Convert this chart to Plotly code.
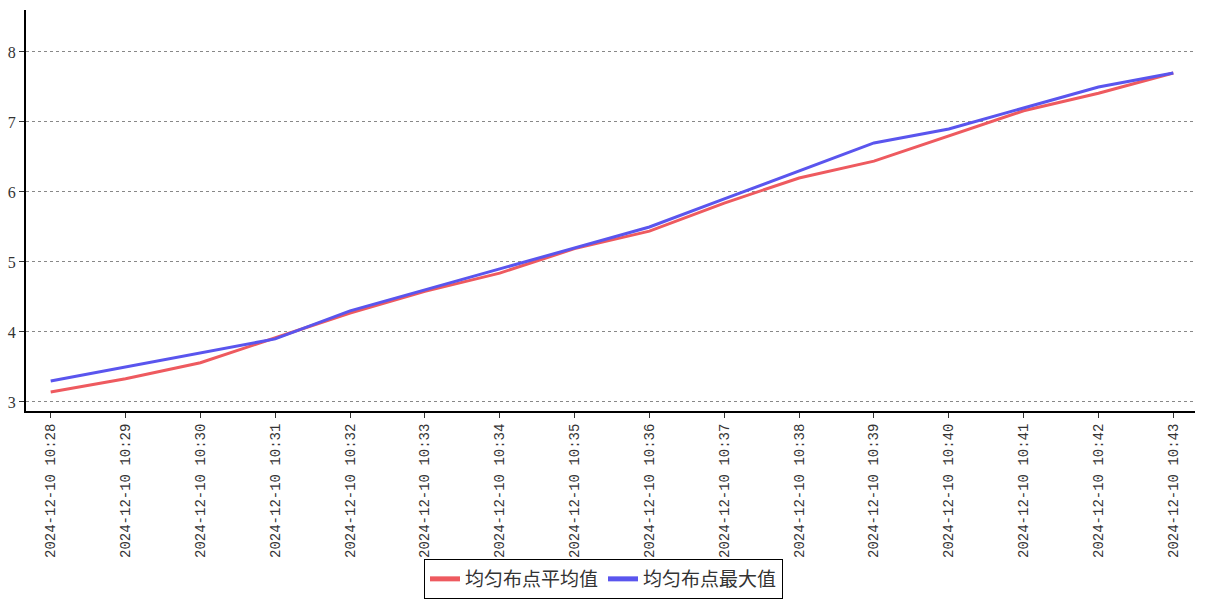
import plotly.graph_objects as go

times = ["2024-12-10 10:28", "2024-12-10 10:29", "2024-12-10 10:30", "2024-12-10 10:31",
         "2024-12-10 10:32", "2024-12-10 10:33", "2024-12-10 10:34", "2024-12-10 10:35",
         "2024-12-10 10:36", "2024-12-10 10:37", "2024-12-10 10:38", "2024-12-10 10:39",
         "2024-12-10 10:40", "2024-12-10 10:41", "2024-12-10 10:42", "2024-12-10 10:43"]
avg_vals = [3.14, 3.33, 3.56, 3.91, 4.27, 4.58, 4.84, 5.19, 5.44, 5.84, 6.2, 6.44, 6.8, 7.16, 7.41, 7.7]
max_vals = [3.3, 3.5, 3.7, 3.9, 4.3, 4.6, 4.9, 5.2, 5.5, 5.9, 6.3, 6.7, 6.9, 7.2, 7.5, 7.7]
y_ticks = [3, 4, 5, 6, 7, 8]

fig = go.Figure()
fig.add_trace(go.Scatter(x=times, y=avg_vals, mode="lines", name="均匀布点平均值",
                         line=dict(color="#ee5a5f", width=3)))
fig.add_trace(go.Scatter(x=times, y=max_vals, mode="lines", name="均匀布点最大值",
                         line=dict(color="#5a55ee", width=3)))

fig.update_layout(
    width=1207, height=600,
    margin=dict(l=26, r=12, t=10, b=189, autoexpand=False),
    plot_bgcolor="white", paper_bgcolor="white",
    font=dict(family="Liberation Serif, DejaVu Serif, serif", color="#333333", size=14),
    showlegend=True,
    legend=dict(orientation="h", x=0.5, xanchor="center", xref="container",
                y=1 / 600, yanchor="bottom", yref="container",
                bordercolor="#000000", borderwidth=1, bgcolor="white",
                font=dict(family="Noto Sans CJK SC", size=19, color="#333333"),
                itemwidth=30, tracegroupgap=0, itemsizing="constant"),
    xaxis=dict(type="category", range=[-0.33, 15.29], tickangle=-90,
               showline=True, linecolor="#000000", linewidth=2,
               ticks="outside", ticklen=5, tickcolor="#333333",
               showgrid=False, zeroline=False, automargin=False,
               tickfont=dict(family="Liberation Mono, Courier New, monospace", size=14, color="#333333")),
    yaxis=dict(range=[2.87, 8.6], tickvals=y_ticks,
               showline=True, linecolor="#000000", linewidth=2,
               ticks="outside", ticklen=5, tickcolor="#333333",
               showgrid=True, gridcolor="#888888", griddash="dot", gridwidth=1,
               zeroline=False, automargin=False,
               tickfont=dict(family="Liberation Serif, DejaVu Serif, serif", size=16, color="#333333")),
)

fig.write_html("out.html", config={"displayModeBar": False},
               post_script="document.body.style.margin='0';document.body.style.overflow='hidden';")
